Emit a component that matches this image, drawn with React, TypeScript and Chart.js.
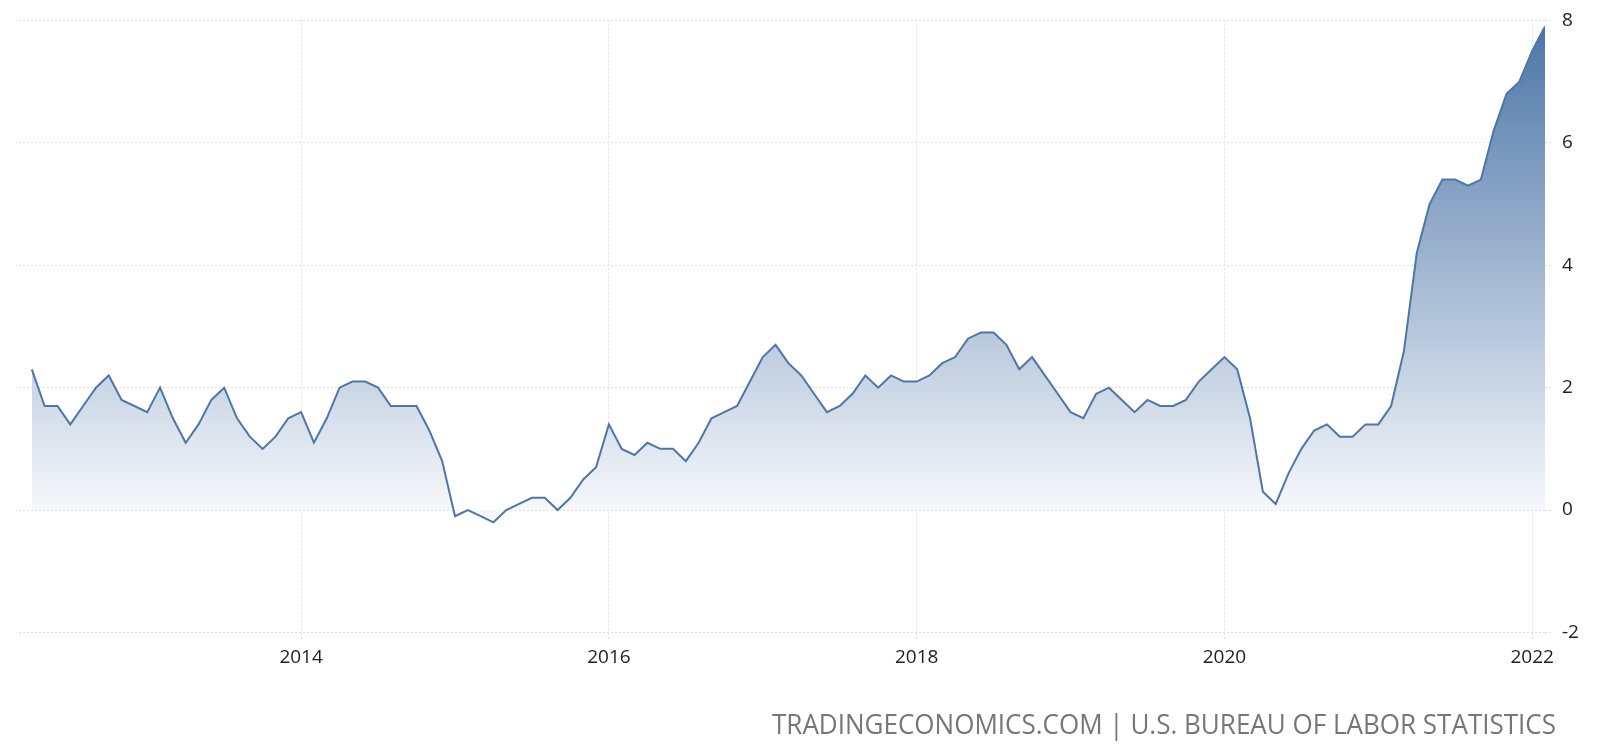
import React, { useEffect, useRef } from "react";
import { Chart, registerables } from "chart.js";

Chart.register(...registerables);

// US CPI inflation rate, year-over-year %, monthly (Apr 2012 - Feb 2022)
const startYear = 2012;
const startMonth = 4; // April
const cpi2012 = [2.3, 1.7, 1.7, 1.4, 1.7, 2.0, 2.2, 1.8, 1.7];
const cpi2013 = [1.6, 2.0, 1.5, 1.1, 1.4, 1.8, 2.0, 1.5, 1.2, 1.0, 1.2, 1.5];
const cpi2014 = [1.6, 1.1, 1.5, 2.0, 2.1, 2.1, 2.0, 1.7, 1.7, 1.7, 1.3, 0.8];
const cpi2015 = [-0.1, 0.0, -0.1, -0.2, 0.0, 0.1, 0.2, 0.2, 0.0, 0.2, 0.5, 0.7];
const cpi2016 = [1.4, 1.0, 0.9, 1.1, 1.0, 1.0, 0.8, 1.1, 1.5, 1.6, 1.7, 2.1];
const cpi2017 = [2.5, 2.7, 2.4, 2.2, 1.9, 1.6, 1.7, 1.9, 2.2, 2.0, 2.2, 2.1];
const cpi2018 = [2.1, 2.2, 2.4, 2.5, 2.8, 2.9, 2.9, 2.7, 2.3, 2.5, 2.2, 1.9];
const cpi2019 = [1.6, 1.5, 1.9, 2.0, 1.8, 1.6, 1.8, 1.7, 1.7, 1.8, 2.1, 2.3];
const cpi2020 = [2.5, 2.3, 1.5, 0.3, 0.1, 0.6, 1.0, 1.3, 1.4, 1.2, 1.2, 1.4];
const cpi2021 = [1.4, 1.7, 2.6, 4.2, 5.0, 5.4, 5.4, 5.3, 5.4, 6.2, 6.8, 7.0];
const cpi2022 = [7.5, 7.9];

const xTickYears = [2014, 2016, 2018, 2020, 2022];
const yTicks = [-2, 0, 2, 4, 6, 8];
const footerText = "TRADINGECONOMICS.COM | U.S. BUREAU OF LABOR STATISTICS";

const allValues = [
  ...cpi2012, ...cpi2013, ...cpi2014, ...cpi2015, ...cpi2016, ...cpi2017,
  ...cpi2018, ...cpi2019, ...cpi2020, ...cpi2021, ...cpi2022,
];

const points = allValues.map((v, i) => {
  const m = startMonth - 1 + i;
  return { x: startYear + m / 12, y: v };
});

const FONT = "'Open Sans', 'DejaVu Sans', sans-serif";

const footerPlugin = {
  id: "footer",
  afterDraw(chart: any) {
    const ctx = chart.ctx;
    ctx.save();
    ctx.font = `27px ${FONT}`;
    ctx.fillStyle = "#767676";
    ctx.textAlign = "right";
    ctx.textBaseline = "alphabetic";
    ctx.fillText(footerText, 1556, 734, 784);
    ctx.restore();
  },
};

export default function App() {
  const ref = useRef<HTMLCanvasElement | null>(null);

  useEffect(() => {
    if (!ref.current) return;
    const chart = new Chart(ref.current, {
      type: "line",
      data: {
        datasets: [
          {
            data: points,
            borderColor: "#4f76a7",
            borderWidth: 2,
            pointRadius: 0,
            tension: 0,
            fill: "origin",
            backgroundColor: (context: any) => {
              const c = context.chart;
              const area = c.chartArea;
              if (!area) return "rgba(77,116,165,0.4)";
              const ys = c.scales.y;
              const top = ys.getPixelForValue(8);
              const bottom = ys.getPixelForValue(-2);
              const g = c.ctx.createLinearGradient(0, top, 0, bottom);
              g.addColorStop(0, "rgb(74,116,166)");
              g.addColorStop(0.8, "rgb(246,248,251)");
              g.addColorStop(1, "rgb(255,255,255)");
              return g;
            },
          },
        ],
      },
      options: {
        animation: false,
        responsive: true,
        maintainAspectRatio: false,
        layout: { padding: { left: 19, top: 20, right: 0, bottom: 0 } },
        plugins: {
          legend: { display: false },
          tooltip: { enabled: false },
        },
        scales: {
          x: {
            type: "linear",
            min: startYear + (startMonth - 2) / 12,
            max: 2022 + 1 / 12,
            afterBuildTicks: (scale: any) => {
              scale.ticks = xTickYears.map((v) => ({ value: v }));
            },
            afterFit: (scale: any) => {
              scale.height = 121.5;
            },
            grid: {
              color: "#dedede",
              lineWidth: 1,
              tickLength: 8,
              tickBorderDash: [2, 2],
            },
            border: { display: false, dash: [2, 2] },
            ticks: {
              color: "#222",
              font: { family: FONT, size: 19 },
              padding: 6,
              maxRotation: 0,
              autoSkip: false,
              callback: (v: any) => String(v),
            },
          },
          y: {
            position: "right",
            min: -2,
            max: 8,
            afterBuildTicks: (scale: any) => {
              scale.ticks = yTicks.map((v) => ({ value: v }));
            },
            afterFit: (scale: any) => {
              scale.width = 55;
            },
            grid: {
              color: "#dedede",
              lineWidth: 1,
              tickLength: 8,
              tickBorderDash: [2, 2],
            },
            border: { display: false, dash: [2, 2] },
            ticks: {
              color: "#222",
              font: { family: FONT, size: 19 },
              padding: 9,
              callback: (v: any) => String(v),
            },
          },
        },
      },
      plugins: [footerPlugin],
    });
    return () => chart.destroy();
  }, []);

  return (
    <div
      style={{
        position: "absolute",
        left: 0,
        top: 0,
        width: "1600px",
        height: "754px",
        background: "#fff",
      }}
    >
      <canvas ref={ref} />
    </div>
  );
}
